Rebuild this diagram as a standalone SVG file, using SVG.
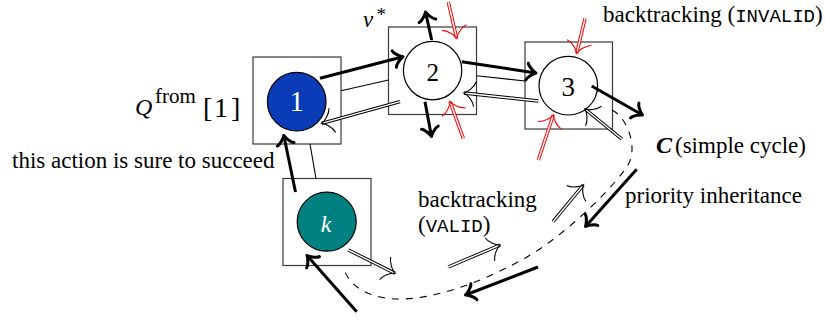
<svg xmlns="http://www.w3.org/2000/svg" width="825" height="320" viewBox="0 0 825 320">
  <style>
    .box { fill: none; stroke: #3a3a3a; stroke-width: 1.2; }
    .node { stroke: #000; stroke-width: 1.2; }
    .thin { fill: none; stroke: #000; stroke-width: 1.1; }
    .thick { fill: none; stroke: #000; stroke-width: 3; marker-end: url(#to); }
    .dash { fill: none; stroke: #000; stroke-width: 1.1; stroke-dasharray: 7 7; }
    .dblo { fill: none; stroke: #000; stroke-width: 3.4; }
    .dbli { fill: none; stroke: #fff; stroke-width: 1.4; marker-end: url(#imp); }
    .redo { fill: none; stroke: #ff0000; stroke-width: 3.4; }
    .redi { fill: none; stroke: #fff; stroke-width: 1.4; marker-end: url(#impred); }
    text { font-family: "Liberation Serif", "Times New Roman", serif; font-size: 23px; fill: #000; }
    .tt { font-family: "Liberation Mono", "Courier New", monospace; font-size: 19px; }
    .lbl { text-anchor: middle; }
  </style>
  <defs>
    <marker id="to" markerUnits="userSpaceOnUse" markerWidth="20" markerHeight="20" refX="0" refY="0" orient="auto" style="overflow:visible">
      <path d="M -9,-8.5 C -8.4,-5.3 -1.8,-0.6 0,0 C -1.8,0.6 -8.4,5.3 -9,8.5" fill="none" stroke="#000" stroke-width="3" stroke-linecap="round" stroke-linejoin="round"/>
    </marker>
    <marker id="imp" markerUnits="userSpaceOnUse" markerWidth="24" markerHeight="24" refX="0" refY="0" orient="auto" style="overflow:visible">
      <path d="M -11,-12.5 C -9.8,-7 -3.2,-1 0,0 C -3.2,1 -9.8,7 -11,12.5" fill="none" stroke="#000" stroke-width="1.1"/>
    </marker>
    <marker id="impred" markerUnits="userSpaceOnUse" markerWidth="24" markerHeight="24" refX="0" refY="0" orient="auto" style="overflow:visible">
      <path d="M -11,-12.5 C -9.8,-7 -3.2,-1 0,0 C -3.2,1 -9.8,7 -11,12.5" fill="none" stroke="#ff0000" stroke-width="1.1"/>
    </marker>
  </defs>

  <!-- nodes: square frames with circular vertices -->
  <g id="node-1">
    <rect class="box" x="253" y="57" width="88" height="87"/>
    <circle class="node" cx="296.7" cy="101.7" r="29.3" fill="#0a3cb8"/>
    <text class="lbl" x="296.7" y="110.7" style="font-size:29px;fill:#fff">1</text>
  </g>
  <g id="node-2">
    <rect class="box" x="388.5" y="27" width="88" height="87.5"/>
    <circle class="node" cx="432.6" cy="70.6" r="29.2" fill="#fff"/>
    <text class="lbl" x="432.7" y="80.7" style="font-size:25px">2</text>
  </g>
  <g id="node-3">
    <rect class="box" x="525" y="42" width="87.5" height="87"/>
    <circle class="node" cx="568.3" cy="85.7" r="29.3" fill="#fff"/>
    <text class="lbl" x="568.3" y="95.7" style="font-size:27px">3</text>
  </g>
  <g id="node-k">
    <rect class="box" x="283" y="178.5" width="88" height="87"/>
    <circle class="node" cx="326.7" cy="221.7" r="29.5" fill="#008080"/>
    <text class="lbl" x="326" y="231.5" font-style="italic" style="font-size:24px;fill:#fff">k</text>
  </g>

  <!-- connectors -->
  <g id="connectors">
    <!-- plain links between frames -->
    <line class="thin" x1="341" y1="90.7" x2="388.5" y2="80"/>
    <line class="thin" x1="476.5" y1="75.7" x2="525" y2="81"/>
    <line class="thin" x1="310" y1="144" x2="316" y2="178.5"/>

    <!-- cycle C -->
    <path class="dash" d="M 612,110 C 628,118 638,148 628,165 C 618,182 570,232 527,257 C 490,278 440,299 400,299 C 370,299 348,287 343,266"/>

    <!-- thick moves -->
    <line class="thick" x1="320" y1="78.3" x2="403" y2="56.8"/>
    <line class="thick" x1="461.7" y1="61.7" x2="536" y2="73"/>
    <line class="thick" x1="591.7" y1="86" x2="642.5" y2="115"/>
    <line class="thick" x1="431.7" y1="40" x2="425.5" y2="12"/>
    <line class="thick" x1="425" y1="101.7" x2="431.5" y2="136.5"/>
    <line class="thick" x1="636.7" y1="169.3" x2="585.5" y2="226.5"/>
    <line class="thick" x1="538" y1="267" x2="465.5" y2="295"/>
    <line class="thick" x1="356.7" y1="311.7" x2="307" y2="255.5"/>
    <line class="thick" x1="295.5" y1="192" x2="283.8" y2="135.5"/>

    <!-- backtracking (double lines) -->
    <g>
      <line class="dblo" x1="400" y1="101.7" x2="321.7" y2="123.3"/>
      <line class="dbli" x1="400" y1="101.7" x2="321.7" y2="123.3"/>
    </g>
    <g>
      <line class="dblo" x1="538.3" y1="101" x2="464" y2="93"/>
      <line class="dbli" x1="538.3" y1="101" x2="464" y2="93"/>
    </g>
    <g>
      <line class="dblo" x1="621.7" y1="139" x2="585" y2="109"/>
      <line class="dbli" x1="621.7" y1="139" x2="585" y2="109"/>
    </g>
    <g>
      <line class="dblo" x1="348.3" y1="250" x2="395" y2="273.3"/>
      <line class="dbli" x1="348.3" y1="250" x2="395" y2="273.3"/>
    </g>
    <g>
      <line class="dblo" x1="448.3" y1="267" x2="500" y2="245"/>
      <line class="dbli" x1="448.3" y1="267" x2="500" y2="245"/>
    </g>
    <g>
      <line class="dblo" x1="553" y1="221.7" x2="583.3" y2="185"/>
      <line class="dbli" x1="553" y1="221.7" x2="583.3" y2="185"/>
    </g>

    <!-- invalid backtracking (red double lines) -->
    <g>
      <line class="redo" x1="448.3" y1="2" x2="456.7" y2="38.3"/>
      <line class="redi" x1="448.3" y1="2" x2="456.7" y2="38.3"/>
    </g>
    <g>
      <line class="redo" x1="463.3" y1="138.3" x2="450" y2="101.7"/>
      <line class="redi" x1="463.3" y1="138.3" x2="450" y2="101.7"/>
    </g>
    <g>
      <line class="redo" x1="585" y1="18.3" x2="576.7" y2="53.3"/>
      <line class="redi" x1="585" y1="18.3" x2="576.7" y2="53.3"/>
    </g>
    <g>
      <line class="redo" x1="538.3" y1="160" x2="553.3" y2="115"/>
      <line class="redi" x1="538.3" y1="160" x2="553.3" y2="115"/>
    </g>
  </g>

  <!-- labels -->
  <g id="labels">
    <text x="363" y="27" font-style="italic" style="font-size:23px">v</text>
    <text x="376.5" y="21" style="font-size:19px">*</text>

    <text x="135" y="115" font-style="italic" style="font-size:24px">Q</text>
    <text x="155" y="103" style="font-size:21px">from</text>
    <text y="116.5" style="font-size:28px"><tspan x="203">[</tspan><tspan x="214">1</tspan><tspan x="231">]</tspan></text>

    <text x="12" y="168">this action is sure to succeed</text>

    <text x="603" y="22">backtracking (<tspan class="tt">INVALID</tspan>)</text>

    <text x="418" y="206.7">backtracking</text>
    <text x="418" y="231.7">(<tspan class="tt">VALID</tspan>)</text>

    <text x="656" y="153" font-style="italic" font-weight="bold" style="font-size:24px">C</text>
    <text x="675" y="153">(simple cycle)</text>

    <text x="625" y="203">priority inheritance</text>
  </g>
</svg>
